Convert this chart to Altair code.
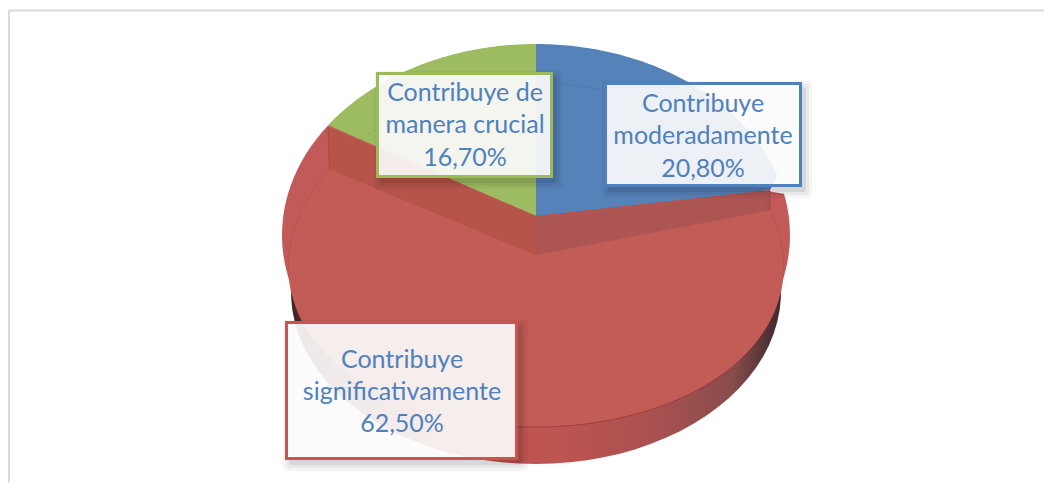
import math
import altair as alt
import pandas as pd

# ---- values
categories = ["Contribuye moderadamente", "Contribuye significativamente", "Contribuye de manera crucial"]
shares = [20.8, 62.5, 16.7]
label_lines = [
    ["Contribuye", "moderadamente", "20,80%"],
    ["Contribuye", "significativamente", "62,50%"],
    ["Contribuye de", "manera crucial", "16,70%"],
]

# ---- layout / style
W, H = 1036, 474
CX = 536
BLUE, RED, GREEN = "#5682ba", "#c15c57", "#9dbb61"
BACK_Y = 216; FACE_Y = 255; BOTTOM_Y = 292
OUT = (CX, 235, 254, 191)
INN = (CX, FACE_Y, 247, 172)
BASE = (CX, BOTTOM_Y, 245, 172)
BOXES = [
    (604, 802, 82, 187, "#4f81bd", [104, 136, 169], 703),
    (285, 518, 321, 460, "#cb5350", [360, 392, 424], 402),
    (376, 553, 72, 178, "#9bbb59", [93, 125, 158], 465),
]
TEXT = "#4f81bd"

x_s = alt.Scale(domain=[8, 8 + W], range=[0, W], nice=False, zero=False)
y_s = alt.Scale(domain=[8 + H, 8], range=[H, 0], nice=False, zero=False)
X = alt.X("x:Q", scale=x_s, axis=None)
Y = alt.Y("y:Q", scale=y_s, axis=None)
X2 = alt.X2("x2:Q"); Y2 = alt.Y2("y2:Q")


def pt(e, deg, p=0.0):
    cx, cy, a, b = e
    t = math.radians(deg)
    return (cx + a * math.sin(t) * (1 - p * math.cos(t)), cy - b * math.cos(t))


def arc(e, d0, d1, p=0.0, n=90):
    return [pt(e, d0 + (d1 - d0) * i / n, p) for i in range(n + 1)]


def poly(points, fill, stroke="transparent", sw=0.0, op=1.0, closed=True):
    df = pd.DataFrame(points, columns=["x", "y"]).assign(i=range(len(points)))
    kw = dict(stroke=stroke, strokeWidth=sw, opacity=op)
    if closed:
        kw.update(fill=fill, interpolate="linear-closed")
    return alt.Chart(df).mark_line(**kw).encode(x=X, y=Y, order="i:Q")


def grad(stops):
    return alt.Gradient(gradient="linear", x1=0, x2=1, y1=0, y2=0,
                        stops=[alt.GradientStop(offset=o, color=c) for o, c in stops])


# angles from the shares, clockwise from the top
blue_end = shares[0] * 3.6
green_start = -shares[2] * 3.6
p = 0.07
layers = []

# frame
layers.append(alt.Chart(pd.DataFrame({"x": [8.5], "x2": [8.0 + W], "y": [10.5]})).mark_rule(
    color="#d9d9d9", strokeWidth=2).encode(x=X, x2=X2, y=Y))
layers.append(alt.Chart(pd.DataFrame({"x": [9], "y": [10.5], "y2": [8 + H]})).mark_rule(
    color="#d9d9d9", strokeWidth=2).encode(x=X, y=Y, y2=Y2))

# side wall
layers.append(poly(arc(BASE, 0, 360), grad([(0, "#3b2325"), (0.05, "#6b3535"), (0.3, "#bf5552"),
                                           (0.55, "#bd5551"), (0.75, "#a85050"),
                                           (0.9, "#8a4c4c"), (1, "#3b2a2c")])))
# outer rim of the red slice
rim_end = 77.5
rim_start = -54.9
layers.append(poly(arc(OUT, rim_end, 360 + rim_start), "#c35a5a"))

# back slices
blue_pts = [(CX, BACK_Y)] + arc(OUT, 0, 72) + [(770, 190)]
green_pts = [(CX, BACK_Y)] + arc(OUT, rim_start, 0)
layers.append(poly(blue_pts, BLUE))
layers.append(poly(green_pts, GREEN))

# red face
layers.append(poly([(CX, FACE_Y)] + arc(INN, blue_end, 360 + green_start, p), RED))

# cut walls of the red slice
c_l = pt(INN, green_start, p)
c_r = pt(INN, blue_end, p)
layers.append(poly([(CX, BACK_Y), (328, 127), c_l, (CX, FACE_Y)], "#b6544a"))
layers.append(poly([(CX, BACK_Y), (770, 190), c_r, (CX, FACE_Y)], "#ad5552"))

# thin edges
layers.append(poly(arc(INN, 110, 250, p), None, "#8a2a2a", 0.9, 0.6, closed=False))
layers.append(poly(arc(INN, blue_end, 110, p), None, "#8a2a2a", 0.7, 0.22, closed=False))
layers.append(poly(arc(INN, 250, 360 + green_start, p), None, "#8a2a2a", 0.7, 0.22, closed=False))
layers.append(poly(arc(INN, green_start, blue_end, p), None, "#000000", 0.8, 0.07, closed=False))
layers.append(poly([(328, 127), c_l], None, "#8a2a2a", 0.8, 0.4, closed=False))
layers.append(poly([(770, 190), c_r], None, "#8a2a2a", 0.8, 0.4, closed=False))
layers.append(poly([(CX, BACK_Y), (CX, FACE_Y)], None, "#8a2a2a", 0.8, 0.15, closed=False))

# label boxes
for (x0, x1, y0, y1, col, ys, xc), lines in zip(BOXES, label_lines):
    for grow, op in ((6, 0.04), (3, 0.05), (0, 0.07)):
        layers.append(alt.Chart(pd.DataFrame({"x": [x0 + 4 - grow], "x2": [x1 + 4 + grow],
                                              "y": [y0 + 5 - grow], "y2": [y1 + 5 + grow]}))
                      .mark_rect(color="#000000", opacity=op, cornerRadius=3)
                      .encode(x=X, x2=X2, y=Y, y2=Y2))
    layers.append(alt.Chart(pd.DataFrame({"x": [x0 + 1.5], "x2": [x1 - 1.5], "y": [y0 + 1.5], "y2": [y1 - 1.5]}))
                  .mark_rect(fill="white", fillOpacity=0.9, stroke=col, strokeWidth=3)
                  .encode(x=X, x2=X2, y=Y, y2=Y2))
    layers.append(alt.Chart(pd.DataFrame({"x": [xc] * 3, "y": ys, "t": lines}))
                  .mark_text(font="Lato", fontSize=25, color=TEXT, align="center", baseline="middle")
                  .encode(x=X, y=Y, text="t:N"))

chart = alt.layer(*layers).properties(width=W, height=H, padding=0, autosize="none",
                                      background="white").configure_view(stroke=None)
chart.save("out.html", embed_options={"renderer": "svg", "actions": False})
